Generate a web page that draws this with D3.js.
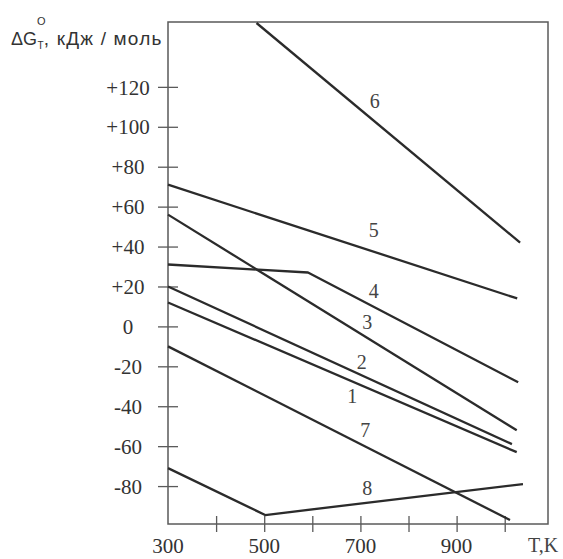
<!DOCTYPE html>
<html><head><meta charset="utf-8">
<script src="https://cdn.jsdelivr.net/npm/d3@7"></script>
<style>
html,body{margin:0;padding:0;background:#fff;}
svg{display:block;}
</style></head>
<body>
<svg id="chart" width="563" height="559"></svg>
<script>
// ---- data (T in K, ΔG in kJ/mol) ----
const seriesNames = ["1","2","3","4","5","6","7","8"];
const line1 = [[300, 12], [1025, -63]];
const line2 = [[300, 20], [1015, -59]];
const line3 = [[300, 56], [1025, -52]];
const line4 = [[300, 31], [591, 27], [1028, -28]];
const line5 = [[300, 71], [1026, 14]];
const line6 = [[484, 152], [1032, 42]];
const line7 = [[300, -10], [1011, -97]];
const line8 = [[300, -71], [502, -94.5], [1038, -79]];
const labelAt = [[683, -38.4], [703, -21.3], [714, -1.3], [728, 14.2], [728, 44.8], [730, 109.4], [710, -55.4], [714, -84.4]];
const xTicks = [400, 500, 600, 700, 800, 900, 1000];
const xTickLabels = ["300", "500", "700", "900"];
const yTicks = [120, 100, 80, 60, 40, 20, 0, -20, -40, -60, -80];
const yTickLabels = ["+120", "+100", "+80", "+60", "+40", "+20", "0", "-20", "-40", "-60", "-80"];

const allLines = [line1, line2, line3, line4, line5, line6, line7, line8];

const svg = d3.select("#chart");
const x = d3.scaleLinear().domain([300, 1090]).range([168, 548]);
const y = d3.scaleLinear().domain([-99, 152.5]).range([524, 22]);

const ink = "#2b2b2b";
const frameCol = "#5a5a5a";

// frame
svg.append("rect")
  .attr("x", x(300)).attr("y", y(152.5))
  .attr("width", x(1090) - x(300)).attr("height", y(-99) - y(152.5))
  .attr("fill", "none").attr("stroke", frameCol).attr("stroke-width", 1.5);

// y axis
const yAxis = d3.axisLeft(y).tickValues(yTicks)
  .tickFormat((d, i) => yTickLabels[i]).tickSizeInner(9).tickSizeOuter(0);
const gy = svg.append("g").attr("transform", `translate(${x(300)},0)`).call(yAxis);
gy.select(".domain").remove();
gy.selectAll(".tick line").attr("x1", 10).attr("x2", -10).attr("stroke", frameCol).attr("stroke-width", 1.3);
gy.selectAll(".tick text")
  .attr("x", -40).attr("dy", "0.34em")
  .attr("text-anchor", "middle")
  .attr("font-family", "Liberation Serif, Times New Roman, serif")
  .attr("font-size", 21).attr("fill", "#333");

// x axis
const xAxis = d3.axisBottom(x).tickValues(xTicks).tickFormat("").tickSizeInner(8).tickSizeOuter(0);
const gx = svg.append("g").attr("transform", `translate(0,${y(-99)})`).call(xAxis);
gx.select(".domain").remove();
gx.selectAll(".tick line").attr("y1", -8).attr("y2", 8).attr("stroke", frameCol).attr("stroke-width", 1.3);

svg.append("g").selectAll("text").data(xTickLabels).join("text")
  .attr("x", d => x(+d)).attr("y", 553)
  .attr("text-anchor", "middle")
  .attr("font-family", "Liberation Serif, Times New Roman, serif")
  .attr("font-size", 21).attr("fill", "#333")
  .text(d => d);

svg.append("text").attr("x", 543).attr("y", 552)
  .attr("text-anchor", "middle")
  .attr("font-family", "Liberation Serif, Times New Roman, serif")
  .attr("font-size", 20).attr("fill", "#444").text("T,K");

// y title (single text element with sub/superscript tspans)
const tf = "Liberation Sans, Arial, sans-serif";
const title = svg.append("text").attr("x", 11).attr("y", 45)
  .attr("font-family", tf).attr("fill", "#333");
title.append("tspan").attr("font-size", 18).text("ΔG");
title.append("tspan").attr("font-size", 11).attr("dy", -20).text("O");
title.append("tspan").attr("font-size", 10).attr("dx", -8).attr("dy", 24).text("T");
title.append("tspan").attr("font-size", 19).attr("dy", -4).attr("letter-spacing", 1.2).text(", кДж / моль");

// lines
const lineGen = d3.line().x(d => x(d[0])).y(d => y(d[1]));
svg.append("g").selectAll("path").data(allLines).join("path")
  .attr("d", lineGen).attr("fill", "none")
  .attr("stroke", ink).attr("stroke-width", 2.3)
  .attr("stroke-linejoin", "round");

// line labels
svg.append("g").selectAll("text").data(seriesNames).join("text")
  .attr("x", (d, i) => x(labelAt[i][0])).attr("y", (d, i) => y(labelAt[i][1]))
  .attr("text-anchor", "middle")
  .attr("font-family", "Liberation Serif, Times New Roman, serif")
  .attr("font-size", 20).attr("fill", "#444")
  .text(d => d);
</script>
</body></html>
